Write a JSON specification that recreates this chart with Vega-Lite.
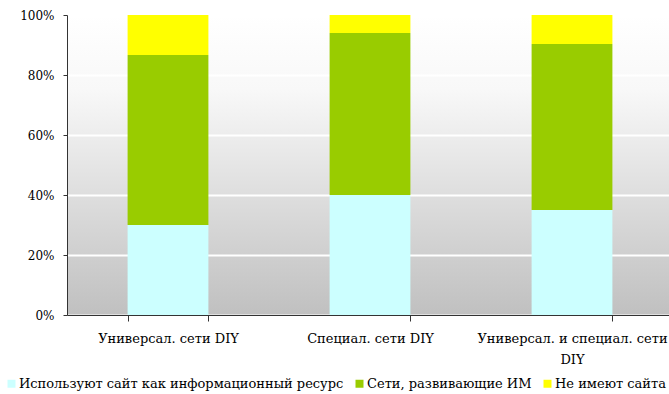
{
  "$schema": "https://vega.github.io/schema/vega-lite/v6.json",
  "width": 602,
  "height": 300,
  "autosize": {"type": "none"},
  "padding": {"left": 67, "top": 15, "right": 0, "bottom": 79},
  "config": {
    "font": "DejaVu Serif",
    "view": {
      "stroke": null,
      "fill": {
        "gradient": "linear",
        "x1": 0, "y1": 0, "x2": 0, "y2": 1,
        "stops": [
          {"offset": 0, "color": "#ffffff"},
          {"offset": 0.25, "color": "#f8f8f8"},
          {"offset": 1, "color": "#c0c0c0"}
        ]
      }
    }
  },
  "data": {
    "values": [
      {"network": "Универсал. сети DIY", "type": "Используют сайт как информационный ресурс", "pct": 30, "ord": 1},
      {"network": "Универсал. сети DIY", "type": "Сети, развивающие ИМ", "pct": 56.7, "ord": 2},
      {"network": "Универсал. сети DIY", "type": "Не имеют сайта", "pct": 13.3, "ord": 3},
      {"network": "Специал. сети DIY", "type": "Используют сайт как информационный ресурс", "pct": 40, "ord": 1},
      {"network": "Специал. сети DIY", "type": "Сети, развивающие ИМ", "pct": 54, "ord": 2},
      {"network": "Специал. сети DIY", "type": "Не имеют сайта", "pct": 6, "ord": 3},
      {"network": "Универсал. и специал. сети DIY", "type": "Используют сайт как информационный ресурс", "pct": 35, "ord": 1},
      {"network": "Универсал. и специал. сети DIY", "type": "Сети, развивающие ИМ", "pct": 55.3, "ord": 2},
      {"network": "Универсал. и специал. сети DIY", "type": "Не имеют сайта", "pct": 9.7, "ord": 3}
    ]
  },
  "mark": {"type": "bar"},
  "encoding": {
    "x": {
      "field": "network",
      "type": "nominal",
      "sort": ["Универсал. сети DIY", "Специал. сети DIY", "Универсал. и специал. сети DIY"],
      "scale": {"paddingInner": 0.6, "paddingOuter": 0.3, "range": [0, 606]},
      "axis": {
        "title": null,
        "labelAngle": 0,
        "labelFont": "DejaVu Serif",
        "labelFontSize": 13,
        "labelColor": "#000000",
        "labelPadding": 11,
        "labelLineHeight": 21,
        "labelLimit": 300,
        "tickBand": "extent",
        "tickSize": 6,
        "tickColor": "#333333",
        "domainColor": "#333333",
        "labelExpr": "datum.label == 'Универсал. и специал. сети DIY' ? ['Универсал. и специал. сети', 'DIY'] : datum.label"
      }
    },
    "y": {
      "field": "pct",
      "type": "quantitative",
      "stack": "zero",
      "scale": {"domain": [0, 100]},
      "axis": {
        "title": null,
        "values": [0, 20, 40, 60, 80, 100],
        "labelExpr": "datum.value + '%'",
        "labelFont": "DejaVu Serif",
        "labelFontSize": 12,
        "labelColor": "#000000",
        "labelPadding": 9,
        "tickSize": 4,
        "tickColor": "#333333",
        "domainColor": "#333333",
        "grid": true,
        "gridColor": "#ffffff",
        "gridWidth": 2
      }
    },
    "color": {
      "field": "type",
      "type": "nominal",
      "sort": ["Используют сайт как информационный ресурс", "Сети, развивающие ИМ", "Не имеют сайта"],
      "scale": {
        "domain": ["Используют сайт как информационный ресурс", "Сети, развивающие ИМ", "Не имеют сайта"],
        "range": ["#ccffff", "#99cc00", "#ffff00"]
      },
      "legend": {
        "title": null,
        "orient": "none",
        "direction": "horizontal",
        "legendX": -62,
        "legendY": 362,
        "symbolType": "square",
        "symbolSize": 64,
        "symbolStrokeWidth": 0,
        "labelFont": "DejaVu Serif",
        "labelFontSize": 13,
        "labelColor": "#000000",
        "labelOffset": 1,
        "labelLimit": 400,
        "columnPadding": 9
      }
    },
    "order": {"field": "ord"}
  }
}
